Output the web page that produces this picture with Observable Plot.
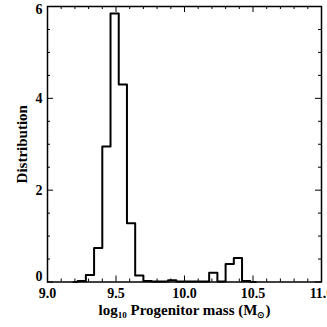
<!DOCTYPE html>
<html>
<head>
<meta charset="utf-8">
<script src="https://cdn.jsdelivr.net/npm/d3@7"></script>
<script src="https://cdn.jsdelivr.net/npm/@observablehq/plot@0.6"></script>
<style>
  html, body { margin: 0; padding: 0; background: #fff; }
  #chart svg { display: block; overflow: hidden; }
  #chart svg text { font-family: "Liberation Serif", "Times New Roman", serif !important; font-weight: bold; font-variant: normal !important; }
</style>
</head>
<body>
<div id="chart"></div>
<script>
// Histogram bin edges (log10 progenitor mass) and heights
const binEdges = [9.19, 9.22, 9.28, 9.34, 9.40, 9.46, 9.52, 9.58, 9.64, 9.70, 9.76, 9.82,
                  9.88, 9.94, 10.00, 10.06, 10.12, 10.18, 10.24, 10.30, 10.36, 10.42, 10.48, 10.52];
const binValues = [0, 0.02, 0.15, 0.74, 2.95, 5.85, 4.3, 1.28, 0.14, 0.02, 0.01, 0.01,
                   0.04, 0.01, 0.01, 0.01, 0.01, 0.2, 0.01, 0.39, 0.52, 0.02, 0];
const xMajorTicks = [9.0, 9.5, 10.0, 10.5, 11.0];
const xMinorTicks = [9.1, 9.2, 9.3, 9.4, 9.6, 9.7, 9.8, 9.9, 10.1, 10.2, 10.3, 10.4, 10.6, 10.7, 10.8, 10.9];
const yMajorTicks = [0, 2, 4, 6];
const yMinorTicks = [0.5, 1, 1.5, 2.5, 3, 3.5, 4.5, 5, 5.5];

const W = 327, H = 327;
const mt = 6, mb = 45.5, ml = 47, mr = 6;
const innerH = H - mt - mb, innerW = W - ml - mr;

const pts = binEdges.map((e, i) => ({x: e, y: i < binValues.length ? binValues[i] : binValues[binValues.length - 1]}));

const font = "Liberation Serif, Times New Roman, serif";
const yLabelOpts = {tickSize: 0, tickPadding: 5, fontSize: 14, fontWeight: "bold", fontFamily: font,
  tickFormat: d3.format("d"), label: null};

const chart = Plot.plot({
  width: W, height: H,
  marginTop: mt, marginBottom: mb, marginLeft: ml, marginRight: mr,
  style: {fontFamily: font, fontWeight: "bold", background: "#fff", color: "#000"},
  x: {domain: [9, 11]},
  y: {domain: [0, 6]},
  marks: [
    Plot.axisX({ticks: xMajorTicks, tickSize: 0, tickPadding: 6, fontSize: 14, fontWeight: "bold", fontFamily: font,
      tickFormat: d3.format(".1f"), label: "LABELX", labelAnchor: "center", labelOffset: 33, labelArrow: "none"}),
    // y tick labels: bottom one nudged up, top one nudged down as in the reference
    Plot.axisY({...yLabelOpts, ticks: yMajorTicks.filter(v => v === 0), dy: -5}),
    Plot.axisY({...yLabelOpts, ticks: yMajorTicks.filter(v => v > 0 && v < 6)}),
    Plot.axisY({...yLabelOpts, ticks: yMajorTicks.filter(v => v === 6), dy: 3}),
    Plot.axisY({ticks: [], tickSize: 0, label: "Distribution", labelAnchor: "center", labelOffset: 31,
      labelArrow: "none", fontFamily: font, fontWeight: "bold"}),
    // inward ticks, bottom & top
    Plot.ruleX(xMinorTicks, {x: d => d, insetTop: innerH - 3, strokeWidth: 1}),
    Plot.ruleX(xMajorTicks, {x: d => d, insetTop: innerH - 6, strokeWidth: 1}),
    Plot.ruleX(xMinorTicks, {x: d => d, insetBottom: innerH - 3, strokeWidth: 1}),
    Plot.ruleX(xMajorTicks, {x: d => d, insetBottom: innerH - 6, strokeWidth: 1}),
    // inward ticks, left & right
    Plot.ruleY(yMinorTicks, {y: d => d, insetRight: innerW - 3, strokeWidth: 1}),
    Plot.ruleY(yMajorTicks, {y: d => d, insetRight: innerW - 6, strokeWidth: 1}),
    Plot.ruleY(yMinorTicks, {y: d => d, insetLeft: innerW - 3, strokeWidth: 1}),
    Plot.ruleY(yMajorTicks, {y: d => d, insetLeft: innerW - 6, strokeWidth: 1}),
    Plot.frame({stroke: "#000", strokeWidth: 1.5}),
    Plot.line(pts, {x: "x", y: "y", curve: "step-after", stroke: "#000", strokeWidth: 2})
  ]
});

// Axis labels: subscripts, no arrows
chart.querySelectorAll("text").forEach(t => {
  if (t.textContent.includes("LABELX")) {
    t.textContent = "";
    const ns = "http://www.w3.org/2000/svg";
    const parts = [
      ["log", 0, null], ["10", 3, 9], [" Progenitor mass (M", -3, null], ["\u2299", 3, 9], [")", -3, null]
    ];
    parts.forEach(([s, dy, fs]) => {
      const sp = document.createElementNS(ns, "tspan");
      sp.textContent = s;
      if (dy) sp.setAttribute("dy", dy);
      if (fs) sp.setAttribute("font-size", fs);
      t.appendChild(sp);
    });
    t.setAttribute("font-size", 15);
  } else if (t.textContent.includes("Distribution")) {
    t.textContent = "Distribution";
    t.setAttribute("font-size", 15);
  }
});
document.getElementById("chart").appendChild(chart);
</script>
</body>
</html>
